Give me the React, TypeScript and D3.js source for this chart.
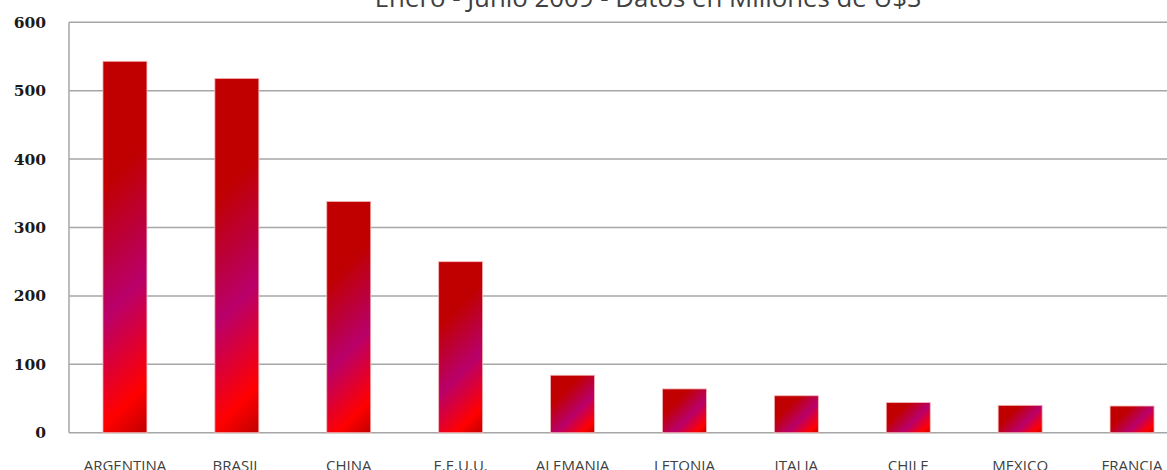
import React from "react";
import * as d3 from "d3";

const categories = ["ARGENTINA", "BRASIL", "CHINA", "E.E.U.U.", "ALEMANIA", "LETONIA", "ITALIA", "CHILE", "MEXICO", "FRANCIA"];
const values = [543, 518, 338, 250, 84, 64, 54, 44, 40, 39];
const yTicks = [0, 100, 200, 300, 400, 500, 600];
const title = "Enero - Junio 2009 - Datos en Millones de U$S";

const W = 1167;
const H = 470;
const left = 69;
const right = 1188;
const top = 22.3;
const bottom = 432.7;

export default function App() {
  const x = d3.scaleBand<string>().domain(categories).range([left, right]).paddingInner(0.607).paddingOuter(0.3035);
  const y = d3.scaleLinear().domain([0, 600]).range([bottom, top]);
  const bw = x.bandwidth();

  return (
    <svg width={W} height={H} style={{ position: "absolute", left: 0, top: 0, background: "#fff" }}>
      <defs>
        {categories.map((c, i) => {
          const bx = x(c)!;
          const by = y(values[i]);
          const bh = y(0) - by;
          const s = (bw + bh) / 2;
          return (
            <linearGradient key={c} id={`g${i}`} gradientUnits="userSpaceOnUse" x1={bx} y1={by} x2={bx + s} y2={by + s}>
              <stop offset="0" stopColor="#C00000" />
              <stop offset="0.3" stopColor="#C00000" />
              <stop offset="0.62" stopColor="#B9006A" />
              <stop offset="0.88" stopColor="#FF0000" />
              <stop offset="1" stopColor="#C00000" />
            </linearGradient>
          );
        })}
      </defs>
      <text x={648} y={7} textAnchor="middle" fontFamily="'Open Sans', sans-serif" fontSize={25.8} fill="#404040">
        {title}
      </text>
      {yTicks.map((t) => (
        <g key={t}>
          <line x1={left} x2={right} y1={y(t)} y2={y(t)} stroke="#A6A6A6" strokeWidth={1.5} />
          <text x={46} y={y(t)} dy="0.36em" textAnchor="end" fontFamily="'DejaVu Serif', serif" fontWeight="bold" fontSize={15.5} fill="#1a1a1a">
            {t}
          </text>
        </g>
      ))}
      <line x1={left} x2={left} y1={top} y2={bottom} stroke="#A6A6A6" strokeWidth={1.5} />
      {categories.map((c, i) => (
        <rect key={c} x={x(c)!} y={y(values[i])} width={bw} height={y(0) - y(values[i])} fill={`url(#g${i})`} stroke="#F2B8B8" strokeWidth={0.8} />
      ))}
      {categories.map((c) => (
        <text key={c} x={x(c)! + bw / 2} y={470.5} textAnchor="middle" fontFamily="'Open Sans', sans-serif" fontSize={15} fill="#404040">
          {c}
        </text>
      ))}
    </svg>
  );
}
